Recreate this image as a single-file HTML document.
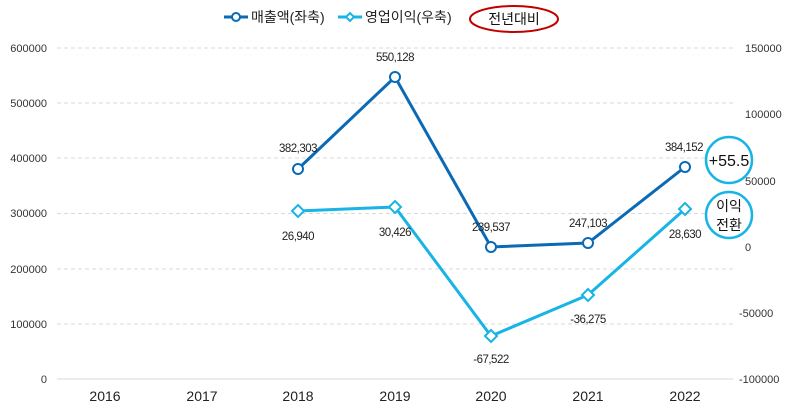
<!DOCTYPE html>
<html><head><meta charset="utf-8"><style>
body{margin:0;background:#fff}
svg text{font-family:"Liberation Sans","Noto Sans CJK KR",sans-serif}
</style></head><body>
<svg width="788" height="410" xmlns="http://www.w3.org/2000/svg">
<g stroke="#d9d9d9" stroke-dasharray="4,3" stroke-width="1">
<line x1="57" x2="733" y1="48" y2="48"/><line x1="57" x2="733" y1="103" y2="103"/>
<line x1="57" x2="733" y1="158" y2="158"/><line x1="57" x2="733" y1="213.5" y2="213.5"/>
<line x1="57" x2="733" y1="269" y2="269"/><line x1="57" x2="733" y1="324" y2="324"/>
</g>
<line x1="57" x2="733" y1="379" y2="379" stroke="#d9d9d9"/>
<g font-size="11" fill="#333" text-anchor="end">
<text x="47" y="52">600000</text><text x="47" y="107">500000</text><text x="47" y="162">400000</text>
<text x="47" y="217">300000</text><text x="47" y="273">200000</text><text x="47" y="328">100000</text><text x="47" y="383">0</text>
</g>
<g font-size="11" fill="#333" text-anchor="start">
<text x="745" y="52">150000</text><text x="745" y="118">100000</text><text x="745" y="185">50000</text>
<text x="745" y="251">0</text><text x="739" y="317">-50000</text><text x="739" y="383">-100000</text>
</g>
<g font-size="14" fill="#222" text-anchor="middle">
<text x="105" y="401">2016</text><text x="202" y="401">2017</text><text x="298" y="401">2018</text>
<text x="395" y="401">2019</text><text x="491" y="401">2020</text><text x="588" y="401">2021</text><text x="685" y="401">2022</text>
</g>
<polyline points="298,169 395,77 491,247 588,243 685,167" fill="none" stroke="#0a6ab5" stroke-width="3"/>
<g fill="#fff" stroke="#0a6ab5" stroke-width="2">
<circle cx="298" cy="169" r="5"/><circle cx="395" cy="77" r="5"/><circle cx="491" cy="247" r="5"/><circle cx="588" cy="243" r="5"/><circle cx="685" cy="167" r="5"/>
</g>
<polyline points="298,211 395,207 491,336 588,295 685,209" fill="none" stroke="#18b4e6" stroke-width="3"/>
<g fill="#fff" stroke="#18b4e6" stroke-width="2">
<path d="M298 205l6 6-6 6-6-6z"/><path d="M395 201l6 6-6 6-6-6z"/><path d="M491 330l6 6-6 6-6-6z"/><path d="M588 289l6 6-6 6-6-6z"/><path d="M685 203l6 6-6 6-6-6z"/>
</g>
<g font-size="11.5" fill="#222" text-anchor="middle" letter-spacing="-0.5">
<text x="298" y="152">382,303</text><text x="395" y="61">550,128</text><text x="491" y="231">239,537</text>
<text x="588" y="227">247,103</text><text x="684" y="151">384,152</text>
<text x="298" y="240">26,940</text><text x="395" y="236">30,426</text><text x="491" y="363">-67,522</text>
<text x="588" y="323">-36,275</text><text x="685" y="238">28,630</text>
</g>
<circle cx="729" cy="160" r="23" fill="#fff" stroke="#18b4e6" stroke-width="2.5"/>
<text x="729" y="166" font-size="16" text-anchor="middle" fill="#111">+55.5</text>
<circle cx="729" cy="215" r="23" fill="#fff" stroke="#18b4e6" stroke-width="2.5"/>
<text x="729" y="211" font-size="14" text-anchor="middle" fill="#111">이익</text>
<text x="729" y="230" font-size="14" text-anchor="middle" fill="#111">전환</text>
<line x1="224" x2="248" y1="17" y2="17" stroke="#0a6ab5" stroke-width="3"/>
<circle cx="236" cy="17" r="4" fill="#fff" stroke="#0a6ab5" stroke-width="2"/>
<text x="251" y="22" font-size="14" fill="#222">매출액(좌축)</text>
<line x1="338" x2="362" y1="17" y2="17" stroke="#18b4e6" stroke-width="3"/>
<path d="M350 13l4 4-4 4-4-4z" fill="#fff" stroke="#18b4e6" stroke-width="2"/>
<text x="365" y="22" font-size="14" fill="#222">영업이익(우축)</text>
<ellipse cx="514" cy="19" rx="44" ry="13" fill="none" stroke="#c00000" stroke-width="2"/>
<text x="514" y="24" font-size="14" text-anchor="middle" fill="#111">전년대비</text>
</svg>
</body></html>
